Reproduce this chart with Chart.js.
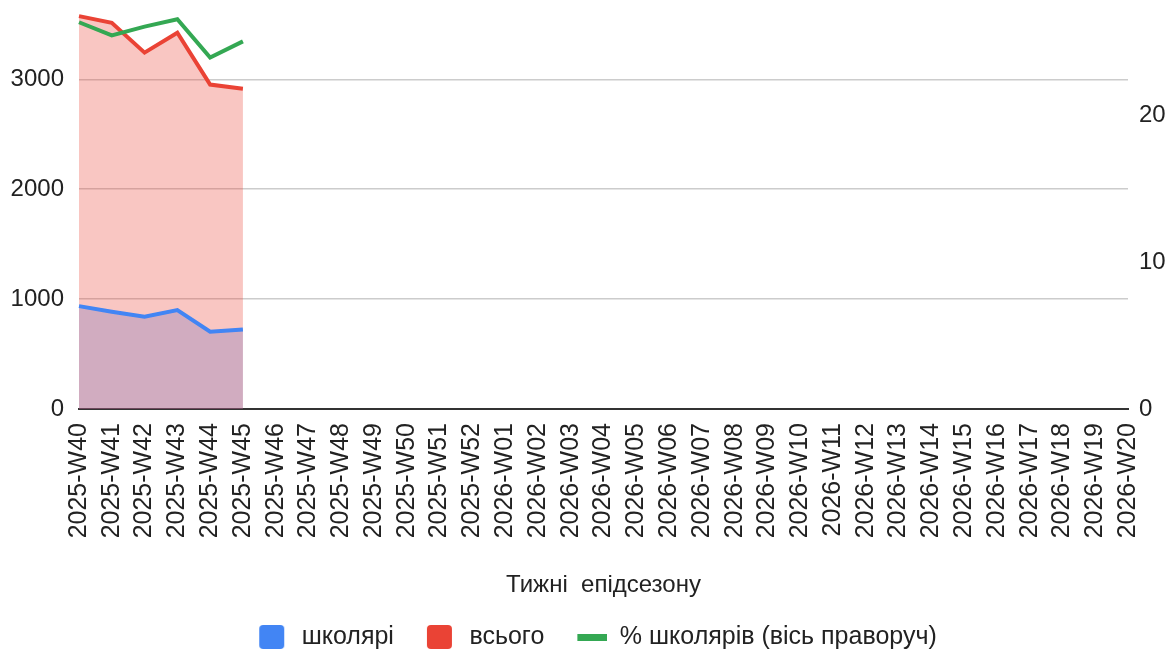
<!DOCTYPE html>
<html>
<head>
<meta charset="utf-8">
<script src="https://cdn.jsdelivr.net/npm/chart.js@4/dist/chart.umd.min.js"></script>
<style>
  html, body { margin: 0; padding: 0; background: #fff; }
  #wrap { width: 1173px; height: 652px; }
</style>
</head>
<body>
<div id="wrap"><canvas id="chart" width="1173" height="652"></canvas></div>
<script>
const weeks = [
  '2025-W40', '2025-W41', '2025-W42', '2025-W43', '2025-W44', '2025-W45', '2025-W46',
  '2025-W47', '2025-W48', '2025-W49', '2025-W50', '2025-W51', '2025-W52',
  '2026-W01', '2026-W02', '2026-W03', '2026-W04', '2026-W05', '2026-W06', '2026-W07',
  '2026-W08', '2026-W09', '2026-W10', '2026-W11', '2026-W12', '2026-W13', '2026-W14',
  '2026-W15', '2026-W16', '2026-W17', '2026-W18', '2026-W19', '2026-W20',
];
const pupils = [936, 885, 839, 900, 703, 724];
const total = [3575, 3515, 3243, 3424, 2952, 2915];
const pupilsPct = [26.3, 25.4, 26.0, 26.5, 23.9, 25.0];
const leftTicks = [0, 1000, 2000, 3000];
const rightTicks = [0, 10, 20];

const FONT = 'Arial, "Liberation Sans", sans-serif';
const BLUE = '#4285f4', RED = '#ea4335', GREEN = '#34a853';

// legend markers drawn into small canvases
function marker(color, kind) {
  const c = document.createElement('canvas');
  c.width = 53;
  c.height = kind === 'bar' ? 7 : 24;
  const g = c.getContext('2d');
  g.fillStyle = color;
  if (kind === 'bar') {
    g.fillRect(23, 0, 30, 7);
  } else {
    g.beginPath();
    g.roundRect(23, 0, 25, 24, 4);
    g.fill();
  }
  return c;
}
const markers = [marker(BLUE, 'box'), marker(RED, 'box'), marker(GREEN, 'bar')];

Chart.defaults.font.family = FONT;
Chart.defaults.color = '#222';

new Chart(document.getElementById('chart'), {
  type: 'line',
  data: {
    labels: weeks,
    datasets: [
      {
        label: 'школярі',
        data: pupils,
        borderColor: BLUE,
        backgroundColor: 'rgba(66,133,244,0.3)',
        fill: 'origin',
        borderWidth: 4,
        pointRadius: 0,
        tension: 0,
        yAxisID: 'y',
        order: 2,
      },
      {
        label: 'всього',
        data: total,
        borderColor: RED,
        backgroundColor: 'rgba(234,67,53,0.3)',
        fill: 'origin',
        borderWidth: 4,
        pointRadius: 0,
        tension: 0,
        yAxisID: 'y',
        order: 1,
      },
      {
        label: '% школярів (вісь праворуч)',
        data: pupilsPct,
        borderColor: GREEN,
        backgroundColor: GREEN,
        fill: false,
        borderWidth: 4,
        pointRadius: 0,
        tension: 0,
        yAxisID: 'y1',
        order: 0,
      },
    ],
  },
  options: {
    responsive: false,
    animation: false,
    layout: { padding: { top: 9, left: 0, right: 0, bottom: -7.5 } },
    plugins: {
      filler: { drawTime: 'beforeDatasetsDraw' },
      tooltip: { enabled: false },
      legend: {
        position: 'bottom',
        labels: {
          usePointStyle: true,
          pointStyleWidth: 53,
          padding: 10,
          color: '#222',
          font: { size: 25 },
          generateLabels: chart => {
            const items = Chart.defaults.plugins.legend.labels.generateLabels(chart);
            items.sort((a, b) => a.datasetIndex - b.datasetIndex);
            return items.map(it => Object.assign(it, { pointStyle: markers[it.datasetIndex] }));
          },
        },
      },
    },
    scales: {
      x: {
        type: 'category',
        offset: false,
        grid: { display: false, drawTicks: false },
        border: { display: true, color: '#333', width: 2 },
        ticks: {
          autoSkip: false,
          maxRotation: 90,
          minRotation: 90,
          padding: 14,
          color: '#222',
          font: { size: 25 },
        },
        title: {
          display: true,
          text: 'Тижні  епідсезону',
          color: '#222',
          font: { size: 24 },
          padding: { top: 0, bottom: 15 },
        },
        afterFit: s => { s.height = 205.5; },
      },
      y: {
        position: 'left',
        min: 0,
        max: 3640,
        grid: { color: '#cccccc', lineWidth: 1.5, drawTicks: false },
        border: { display: false },
        ticks: { padding: 15, color: '#222', font: { size: 24 }, callback: v => String(v) },
        afterBuildTicks: s => { s.ticks = leftTicks.map(v => ({ value: v })); },
        afterFit: s => { s.width = 79; s.paddingTop = 0; s.paddingBottom = 0; },
      },
      y1: {
        position: 'right',
        min: 0,
        max: 27.2,
        grid: { display: false, drawTicks: false },
        border: { display: false },
        ticks: { padding: 11, color: '#222', font: { size: 24 }, callback: v => String(v) },
        afterBuildTicks: s => { s.ticks = rightTicks.map(v => ({ value: v })); },
        afterFit: s => { s.width = 45; s.paddingTop = 0; s.paddingBottom = 0; },
      },
    },
  },
});
</script>
</body>
</html>
